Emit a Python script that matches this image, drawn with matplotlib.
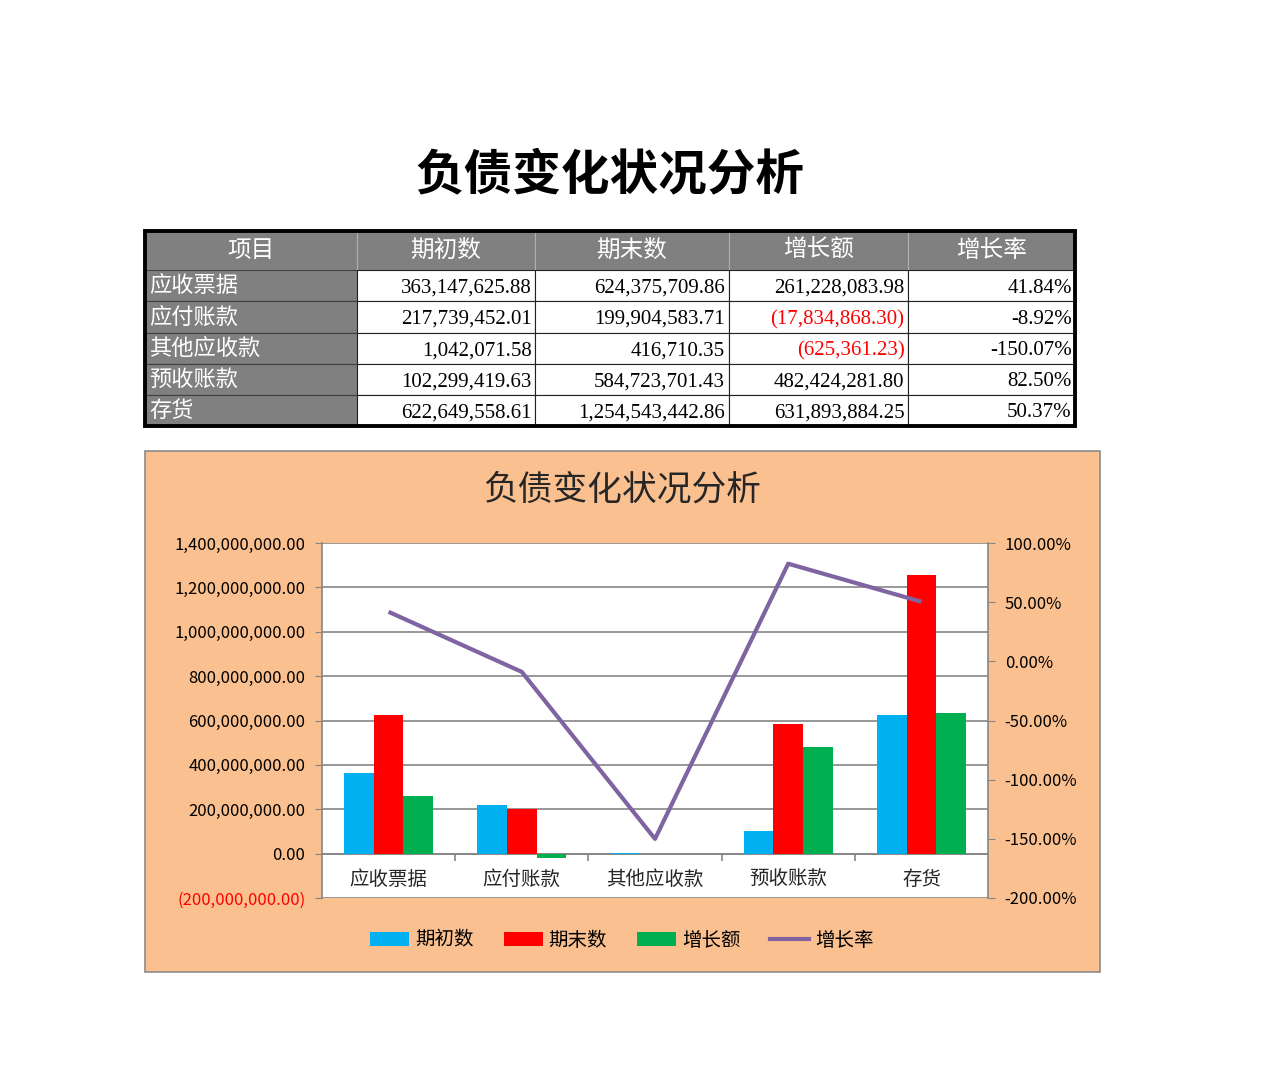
import numpy as np
import matplotlib
matplotlib.use("Agg")
import matplotlib.pyplot as plt
from matplotlib.patches import Rectangle, Patch
from matplotlib.lines import Line2D

plt.rcParams['font.family'] = ['Noto Sans CJK SC', 'DejaVu Sans']

# data
items = ['应收票据', '应付账款', '其他应收款', '预收账款', '存货']
begin = [363147625.88, 217739452.01, 1042071.58, 102299419.63, 622649558.61]
end = [624375709.86, 199904583.71, 416710.35, 584723701.43, 1254543442.86]
growth = [261228083.98, -17834868.30, -625361.23, 482424281.80, 631893884.25]
rate = [0.4184, -0.0892, -1.5007, 0.8250, 0.5037]
headers = ['项目', '期初数', '期末数', '增长额', '增长率']
series_names = ['期初数', '期末数', '增长额', '增长率']
colors = ['#00B0F0', '#FF0000', '#00B050', '#8064A2']

W, H = 1280, 1091
fig = plt.figure(figsize=(W / 100, H / 100), dpi=100)


def fx(px):
    return px / W


def fy(py):
    return 1 - py / H


def money(v):
    s = f"{abs(v):,.2f}"
    return f"({s})" if v < 0 else s


# big title
fig.text(fx(610), fy(175), '负债变化状况分析', ha='center', va='center',
         fontsize=35, fontweight='bold', color='black')

# ---- table ----
ax_t = fig.add_axes([fx(145), fy(426), fx(1075) - fx(145), fy(231) - fy(426)])
ax_t.axis('off')
cell_text = [[items[i], money(begin[i]), money(end[i]), money(growth[i]), f"{rate[i]*100:.2f}%"]
             for i in range(len(items))]
col_w = np.array([212, 178, 194, 179, 167], dtype=float)
tbl = ax_t.table(cellText=cell_text, colLabels=headers, cellLoc='right',
                 colWidths=list(col_w / col_w.sum()), bbox=[0, 0, 1, 1])
tbl.auto_set_font_size(False)
for (r, c), cell in tbl.get_celld().items():
    cell.set_height(39 if r == 0 else 31)
    cell.PAD = 0.02
    cell.set_linewidth(0.8)
    cell.set_edgecolor('#222222')
    t = cell.get_text()
    if r == 0:
        cell.set_facecolor('#808080')
        cell.set_edgecolor('#B0B0B0')
        t.set_ha('center')
        t.set_color('white')
        t.set_fontsize(17)
    elif c == 0:
        cell.set_facecolor('#808080')
        cell.set_edgecolor('#404040')
        t.set_ha('left')
        t.set_color('white')
        t.set_fontsize(16)
    else:
        cell.set_facecolor('white')
        t.set_fontfamily(['Liberation Serif', 'DejaVu Serif'])
        t.set_fontsize(15)
        t.set_va('center_baseline')
        t.set_color('red' if (c == 3 and growth[r - 1] < 0) else 'black')
ax_t.add_patch(Rectangle((0, 0), 1, 1, transform=ax_t.transAxes, fill=False,
                         edgecolor='black', linewidth=2.8, clip_on=False, zorder=10))

# ---- chart background ----
bg = Rectangle((fx(145), fy(972)), fx(1100) - fx(145), fy(451) - fy(972),
               transform=fig.transFigure, facecolor='#FAC090',
               edgecolor='#8C8C8C', linewidth=1.2, zorder=-5)
fig.patches.append(bg)
fig.text(fx(622), fy(490), '负债变化状况分析', ha='center', va='center',
         fontsize=25, color='#262626')

ax = fig.add_axes([fx(322), fy(898), fx(988) - fx(322), fy(543) - fy(898)])
ax.set_facecolor('white')
x = np.arange(len(items))
bw = 0.222
for k, vals in enumerate([begin, end, growth]):
    ax.bar(x + (k - 1) * bw, vals, width=bw, color=colors[k], zorder=3)

ax.set_xlim(-0.5, len(items) - 0.5)
ax.set_ylim(-200e6, 1400e6)
yt = np.arange(-200e6, 1400e6 + 1, 200e6)
ax.set_yticks(yt, [money(v) for v in yt])
for lbl, v in zip(ax.get_yticklabels(), yt):
    lbl.set_color('red' if v < 0 else 'black')
ax.tick_params(axis='y', labelsize=12, length=5, color='#868686', pad=7)
ax.grid(axis='y', color='#868686', linewidth=1.2, zorder=1)
ax.set_axisbelow(True)

ax.spines['bottom'].set_position(('data', 0))
ax.spines['bottom'].set_color('#868686')
ax.spines['bottom'].set_linewidth(1.2)
ax.spines['left'].set_color('#868686')
ax.spines['left'].set_linewidth(1.2)
ax.spines['top'].set_visible(False)
ax.spines['right'].set_visible(False)
ax.set_xticks(x, items)
ax.set_xticks(x[:-1] + 0.5, minor=True)
ax.tick_params(axis='x', which='major', length=0, labelsize=14, pad=11, labelcolor='#262626')
ax.tick_params(axis='x', which='minor', length=5, color='#868686', width=1.2)

ax2 = ax.twinx()
ax2.plot(x, rate, color=colors[3], linewidth=3, solid_capstyle='butt', zorder=5)
ax2.set_ylim(-2.0, 1.0)
rt = np.arange(-2.0, 1.01, 0.5)
ax2.set_yticks(rt, [f"{v*100:.2f}%" for v in rt])
ax2.tick_params(axis='y', labelsize=12, length=5, color='#868686', pad=7)
for s in ['left', 'top', 'bottom']:
    ax2.spines[s].set_visible(False)
ax2.spines['right'].set_color('#868686')
ax2.spines['right'].set_linewidth(1.2)

handles = [Patch(facecolor=colors[0]), Patch(facecolor=colors[1]), Patch(facecolor=colors[2]),
           Line2D([], [], color=colors[3], linewidth=3)]
fig.legend(handles, series_names, loc='center', bbox_to_anchor=(fx(622), fy(940)),
           ncol=4, frameon=False, fontsize=14, handlelength=2.0, handleheight=0.7,
           columnspacing=1.55, handletextpad=0.3)

fig.savefig('out.png', dpi=100)
